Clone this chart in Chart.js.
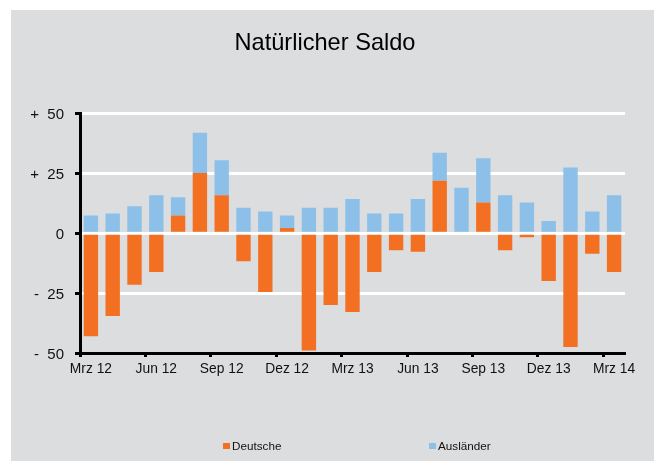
<!DOCTYPE html>
<html>
<head>
<meta charset="utf-8">
<script src="https://cdn.jsdelivr.net/npm/chart.js@4"></script>
<style>
  body { margin: 0; background: #fff; font-family: "Liberation Sans", Arial, sans-serif; }
  #panel { position: absolute; left: 11px; top: 10px; width: 643px; height: 451px; background: #dcdddf; }
  #panel canvas { position: absolute; left: 0; top: 0; }
  .leg { position: absolute; top: 429px; font-size: 11.7px; color: #111; display: flex; align-items: center; }
  .leg i { display: inline-block; width: 7px; height: 6px; margin-right: 2px; }
</style>
</head>
<body>
<div id="panel">
  <canvas id="chart" width="643" height="451"></canvas>
  <div id="legend"></div>
</div>
<script>
// Daten
const months = ['Mrz 12', 'Apr 12', 'Mai 12', 'Jun 12', 'Jul 12', 'Aug 12', 'Sep 12', 'Okt 12', 'Nov 12', 'Dez 12',
    'Jan 13', 'Feb 13', 'Mrz 13', 'Apr 13', 'Mai 13', 'Jun 13', 'Jul 13', 'Aug 13', 'Sep 13', 'Okt 13', 'Nov 13', 'Dez 13',
    'Jan 14', 'Feb 14', 'Mrz 14'];
const deutsche = [-43, -34.6, -21.5, -16.2, 7.4, 25.1, 15.8, -11.7, -24.6, 2.2,
    -49, -30, -32.9, -16.2, -7.1, -7.8, 21.9, 0, 12.8, -7.1, -1.7, -20,
    -47.5, -8.6, -16.2];
const auslaender = [7.4, 8.2, 11.2, 15.8, 7.6, 16.8, 14.6, 10.6, 9, 5.2,
    10.6, 10.6, 14.3, 8.2, 8.2, 14.3, 11.6, 18.9, 18.5, 15.8, 12.8, 5.1,
    27.4, 9, 15.8];
const shownTicks = ['Mrz 12', 'Jun 12', 'Sep 12', 'Dez 12', 'Mrz 13', 'Jun 13', 'Sep 13', 'Dez 13', 'Mrz 14'];
const yTicks = [-50, -25, 0, 25, 50];

const colors = { deutsche: '#f37022', auslaender: '#8dc0e8' };
const font = 'Liberation Sans, Arial, sans-serif';

const ctx = document.getElementById('chart').getContext('2d');
const myChart = new Chart(ctx, {
    type: 'bar',
    data: {
        labels: months,
        datasets: [
            { label: 'Deutsche', data: deutsche, backgroundColor: colors.deutsche },
            { label: 'Ausländer', data: auslaender, backgroundColor: colors.auslaender }
        ]
    },
    options: {
        responsive: false,
        animation: false,
        layout: { padding: { left: 0, right: 15, top: 0, bottom: 0 } },
        datasets: { bar: { barPercentage: 0.66, categoryPercentage: 1 } },
        plugins: {
            legend: { display: false },
            tooltip: { enabled: false },
            title: {
                display: true,
                text: 'Natürlicher Saldo',
                color: '#000',
                font: { family: font, size: 23.6, weight: 'normal' },
                padding: { top: 19.5, bottom: 55.5 }
            }
        },
        scales: {
            x: {
                stacked: true,
                afterFit: s => { s.height = 108; },
                border: { color: '#000', width: 3 },
                grid: {
                    drawOnChartArea: false,
                    tickLength: 4,
                    tickWidth: 3,
                    tickColor: c => (c.index % 3 === 0 && c.index < months.length) ? '#000' : 'rgba(0,0,0,0)'
                },
                ticks: {
                    autoSkip: false,
                    maxRotation: 0,
                    padding: 4,
                    color: '#111',
                    font: { family: font, size: 13.8 },
                    callback: function (v) {
                        const l = this.getLabelForValue(v);
                        return shownTicks.includes(l) ? l : '';
                    }
                }
            },
            y: {
                stacked: true,
                min: -50,
                max: 50,
                afterFit: s => { s.width = 69; },
                afterBuildTicks: s => { s.ticks = yTicks.map(v => ({ value: v })); },
                border: { color: '#000', width: 3 },
                grid: { color: '#fff', lineWidth: 3, tickColor: '#000', tickLength: 5, tickWidth: 3 },
                ticks: {
                    padding: 11,
                    labelOffset: 2,
                    color: '#111',
                    font: { family: font, size: 15 },
                    callback: v => v > 0 ? '+  ' + v : (v < 0 ? '-  ' + (-v) : '0')
                }
            },
            // leerer Platzhalter rechts, damit der Titel mittig über dem Panel sitzt
            yRight: {
                position: 'right',
                min: -50,
                max: 50,
                afterFit: s => { s.width = 14; },
                grid: { display: false },
                border: { display: false },
                ticks: { display: false }
            }
        }
    }
});

// Legende
const legend = document.getElementById('legend');
const legendX = [212, 418];
legend.innerHTML = myChart.data.datasets.map((d, i) => `
    <div class="leg" style="left:${legendX[i]}px"><i style="background:${d.backgroundColor}"></i>${d.label}</div>`).join('');
</script>
</body>
</html>
